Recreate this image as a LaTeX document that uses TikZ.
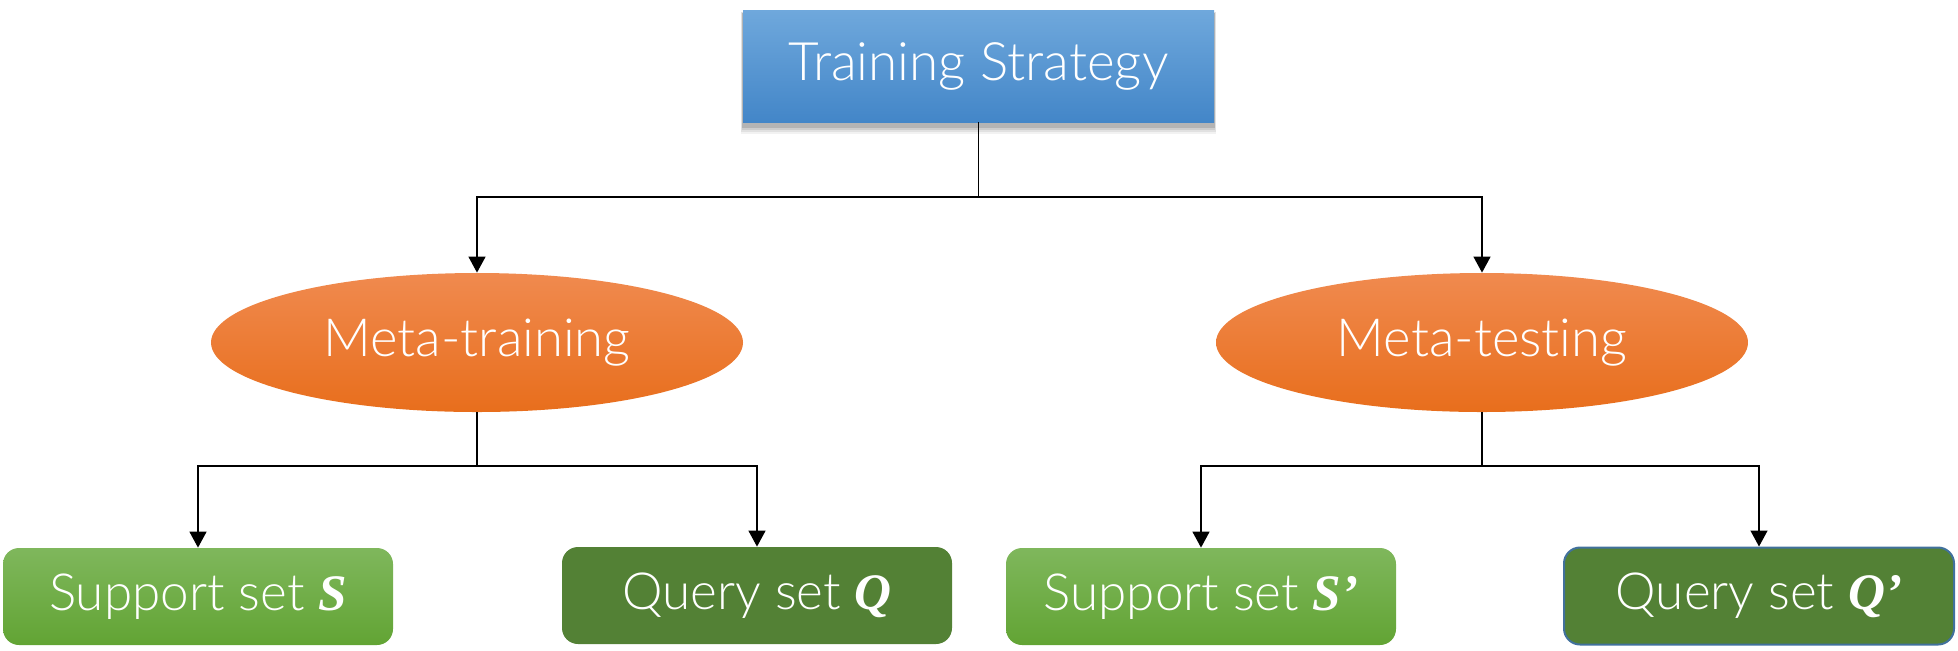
\documentclass[tikz,border=0pt]{standalone}
\usepackage{fontspec}
\setmainfont{Lato}[UprightFont=* Light, Ligatures=NoCommon]
\newfontfamily\serifbi{Liberation Serif}
\usetikzlibrary{arrows.meta,shapes.geometric}
\definecolor{blueT}{HTML}{6FA8DC}
\definecolor{blueB}{HTML}{4386C8}
\definecolor{orangeT}{HTML}{F08A4F}
\definecolor{orangeB}{HTML}{E86E1C}
\definecolor{lgreenT}{HTML}{7FB75C}
\definecolor{lgreenB}{HTML}{62A434}
\definecolor{dgreen}{HTML}{538135}
\definecolor{qborder}{HTML}{41719C}
\newcommand{\bivar}[1]{{\serifbi\bfseries\itshape #1}}
\tikzset{
  topbox/.style={rectangle, top color=blueT, bottom color=blueB, draw=none,
    minimum width=235.5pt, minimum height=56pt, inner sep=0pt,
    text=white, font=\fontsize{26.5}{31}\selectfont},
  metanode/.style={ellipse, top color=orangeT, bottom color=orangeB, draw=none,
    minimum width=266pt, minimum height=69.5pt, inner sep=0pt,
    text=white, font=\fontsize{26.3}{31}\selectfont},
  suppbox/.style={rectangle, rounded corners=8pt, top color=lgreenT, bottom color=lgreenB, draw=none,
    minimum width=195pt, minimum height=48.5pt, inner sep=0pt,
    text=white, font=\fontsize{25.6}{30}\selectfont},
  querybox/.style={rectangle, rounded corners=8pt, fill=dgreen, draw=none,
    minimum width=195pt, minimum height=48.5pt, inner sep=0pt,
    text=white, font=\fontsize{25.6}{30}\selectfont},
  conn/.style={draw=black, line width=0.7pt},
  arr/.style={conn, -{Triangle[width=8.5pt,length=8pt]}}
}
\begin{document}
\begin{tikzpicture}[x=0.5pt,y=-0.5pt]
\useasboundingbox (0,0) rectangle (1958,650);
% shadow of top box
\foreach \d/\o in {8/0.05,6/0.07,4/0.09,2/0.12}{
  \fill[black,opacity=\o] (743-\d*0.3,14-\d*0.3) rectangle (1214+\d*0.3,126+\d);
}
\node[topbox] (top) at (978.5,66) {Training Strategy};
\node[metanode] (mtr) at (477,342.5) {Meta-training};
\node[metanode] (mte) at (1482,342.5) {Meta-testing};
\node[suppbox] (s1) at (198,596.5) {Support set \bivar{S}};
\node[querybox] (q1) at (757,595.5) {Query set \bivar{Q}};
\node[suppbox] (s2) at (1201,596.5) {Support set \bivar{S’}};
\node[querybox, draw=qborder, line width=1pt] (q2) at (1759,596) {Query set \bivar{Q’}};
% junctions
\coordinate (j0) at (top.south |- 0,197);
\coordinate (j1) at (mtr.south |- 0,466);
\coordinate (j2) at (mte.south |- 0,466);
\draw[conn] (top.south) -- (j0);
\draw[arr] (j0) -| (mtr.north);
\draw[arr] (j0) -| (mte.north);
\draw[conn] (mtr.south) -- (j1);
\draw[arr] (j1) -| (s1.north);
\draw[arr] (j1) -| (q1.north);
\draw[conn] (mte.south) -- (j2);
\draw[arr] (j2) -| (s2.north);
\draw[arr] (j2) -| (q2.north);
\end{tikzpicture}
\end{document}
